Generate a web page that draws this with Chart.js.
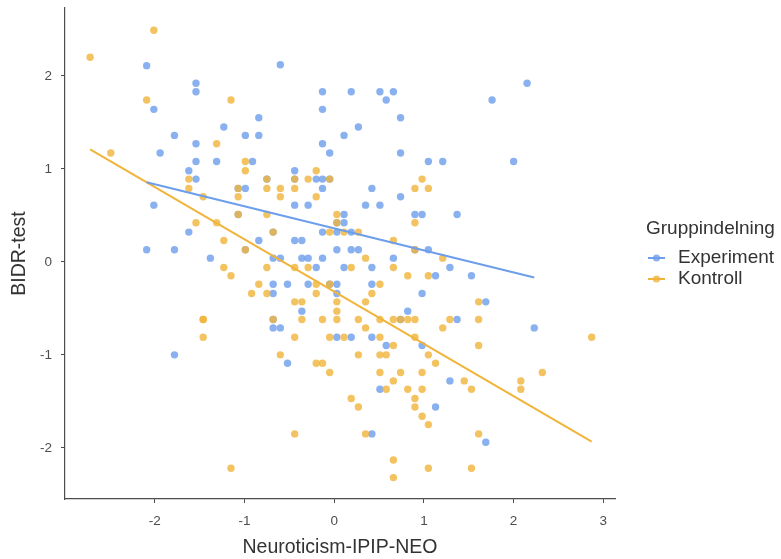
<!DOCTYPE html>
<html>
<head>
<meta charset="utf-8">
<script src="https://cdn.jsdelivr.net/npm/chart.js@4"></script>
<style>
  html, body { margin: 0; padding: 0; background: #fff; }
  #wrap { width: 781px; height: 559px; }
</style>
</head>
<body>
<div id="wrap"><canvas id="scatter" width="781" height="559"></canvas></div>
<script>
// ── Data ─────────────────────────────────────────────────────────────────
const groups = ['Experiment', 'Kontroll'];

const expX = [-2.09,-1.54,-1.54,-2.01,-1.23,-1.78,-0.99,-1.54,-1.94,-1.54,-1.31,-1.62,-1.54,-1.07,-0.99,-2.01,-1.07,-1.62,-2.09,-1.78,-0.99,-1.38,
  -1.78,
  -0.60,-0.13,0.19,0.51,0.66,0.58,-0.13,-0.84,0.74,0.27,-0.84,0.11,-0.13,-0.05,0.74,-0.91,1.05,-0.44,-0.75,-0.44,-0.20,-0.13,-0.05,-0.13,0.42,0.74,
  -0.44,-0.29,0.35,0.51,0.11,0.90,0.98,0.03,0.11,-0.68,-0.13,0.03,0.19,-0.84,-0.44,-0.36,0.03,0.19,0.27,0.90,1.05,-0.68,-0.60,-0.36,-0.29,-0.13,0.66,
  -0.20,0.11,0.42,1.13,-0.68,-0.52,-0.29,-0.05,0.03,0.42,-0.68,0.03,0.98,-0.36,0.82,-0.68,0.74,-0.68,-0.60,0.03,0.19,0.42,0.58,0.98,-0.52,0.51,1.13,0.42,
  2.15,1.76,1.21,2.00,1.37,1.29,1.53,1.69,1.37,2.23,1.29,1.69];
const expY = [2.11,1.92,1.83,1.64,1.45,1.36,1.36,1.27,1.17,1.08,1.08,0.98,0.89,0.79,0.79,0.61,0.51,0.32,0.13,0.13,0.13,0.04,
  -1.00,
  2.12,1.83,1.83,1.83,1.83,1.74,1.64,1.55,1.55,1.45,1.36,1.36,1.27,1.17,1.17,1.08,1.08,0.98,0.89,0.89,0.89,0.89,0.89,0.79,0.79,0.70,
  0.61,0.61,0.61,0.61,0.51,0.51,0.51,0.42,0.42,0.32,0.32,0.32,0.32,0.23,0.23,0.23,0.13,0.13,0.13,0.13,0.13,0.04,0.04,0.04,0.04,0.04,0.04,
  -0.06,-0.06,-0.06,-0.15,-0.24,-0.24,-0.24,-0.24,-0.24,-0.24,-0.34,-0.34,-0.34,-0.53,-0.53,-0.62,-0.62,-0.71,-0.71,-0.81,-0.81,-0.81,-0.90,-0.90,-1.09,-1.37,-1.56,-1.85,
  1.92,1.74,1.08,1.08,0.51,-0.06,-0.15,-0.43,-0.62,-0.71,-1.28,-1.94];

const konX = [-2.72,-2.01,-2.09,-1.15,-1.31,-2.49,-0.99,-0.99,-1.62,-1.62,-1.07,-1.46,-1.07,-1.07,-1.54,-1.31,-1.23,-0.99,
  -1.23,-1.15,-0.92,-1.46,-1.46,-1.46,-1.15,
  -0.20,-0.75,-0.44,-0.29,-0.05,-0.75,-0.60,-0.44,0.90,1.05,0.98,-0.60,-0.20,-0.75,0.03,0.03,0.90,-0.68,-0.05,0.11,0.27,0.66,0.90,0.35,
  -0.75,-0.44,-0.29,0.19,0.66,0.82,1.05,-0.84,-0.20,-0.05,0.51,-0.75,-0.20,0.42,-0.44,-0.36,0.03,0.35,0.03,
  -0.68,-0.36,-0.13,0.03,0.27,0.51,0.66,0.74,0.82,0.90,0.35,-0.44,-0.05,0.11,0.51,0.90,0.66,
  -0.60,0.27,0.51,0.58,1.05,1.13,-0.20,-0.13,-0.05,0.51,0.74,0.98,0.66,0.58,0.82,0.98,0.19,0.90,0.27,0.90,0.98,1.05,-0.44,0.35,0.66,1.05,0.66,
  1.21,1.61,1.29,1.61,1.21,2.87,1.61,2.32,1.45,2.08,1.53,2.08,1.61,1.53];
const konY = [2.20,2.49,1.74,1.74,1.27,1.17,1.08,0.98,0.89,0.79,0.79,0.70,0.70,0.51,0.42,0.42,0.23,0.13,
  -0.06,-0.15,-0.34,-0.62,-0.62,-0.81,-2.22,
  0.98,0.89,0.89,0.89,0.89,0.79,0.79,0.79,0.79,0.79,0.89,0.70,0.70,0.51,0.51,0.42,0.42,0.32,0.32,0.32,0.32,0.23,0.13,0.04,
  -0.06,-0.06,-0.06,-0.06,-0.06,-0.15,-0.15,-0.24,-0.24,-0.24,-0.24,-0.34,-0.34,-0.34,-0.43,-0.43,-0.43,-0.43,-0.53,
  -0.62,-0.62,-0.62,-0.62,-0.62,-0.62,-0.62,-0.62,-0.62,-0.62,-0.71,-0.81,-0.81,-0.81,-0.81,-0.81,-0.90,
  -1.00,-1.00,-1.00,-1.00,-1.00,-1.09,-1.09,-1.09,-1.19,-1.19,-1.19,-1.19,-1.28,-1.37,-1.37,-1.37,-1.47,-1.47,-1.56,-1.56,-1.66,-1.75,-1.85,-1.85,-2.13,-2.22,-2.32,
  0.04,-0.43,-0.62,-0.62,-0.71,-0.81,-0.90,-1.19,-1.28,-1.28,-1.37,-1.37,-1.85,-2.22];

// fitted lines (intercept, slope)
const expFit = [0.36, -0.237];
const konFit = [-0.32, -0.562];

const xTicks = [-2, -1, 0, 1, 2, 3];
const yTicks = [-2, -1, 0, 1, 2];

// ── Helpers ──────────────────────────────────────────────────────────────
const BLUE = '#6d9eeb';
const ORANGE = '#f1b43a';
const FONT = '"Liberation Sans", Arial, sans-serif';

function toPoints(xs, ys) {
    return xs.map((x, i) => ({ x: x, y: ys[i] }));
}

function fitLine(xs, fit) {
    const lo = Math.min(...xs), hi = Math.max(...xs);
    return [lo, hi].map(x => ({ x: x, y: fit[0] + fit[1] * x }));
}

function alpha(hex, a) {
    const n = parseInt(hex.slice(1), 16);
    return `rgba(${n >> 16},${(n >> 8) & 255},${n & 255},${a})`;
}

// legend drawn on the right, ggplot style (line + dot)
const sideLegend = {
    id: 'sideLegend',
    afterDraw(chart) {
        const ctx = chart.ctx;
        ctx.save();
        ctx.textBaseline = 'middle';
        ctx.fillStyle = '#333';
        ctx.font = `19px ${FONT}`;
        ctx.fillText('Gruppindelning', 646, 229);
        [[groups[0], BLUE, 258], [groups[1], ORANGE, 279]].forEach(([label, col, y]) => {
            ctx.strokeStyle = col;
            ctx.lineWidth = 2;
            ctx.beginPath();
            ctx.moveTo(648, y);
            ctx.lineTo(665, y);
            ctx.stroke();
            ctx.fillStyle = alpha(col, 0.8);
            ctx.beginPath();
            ctx.arc(656.5, y, 3.6, 0, Math.PI * 2);
            ctx.fill();
            ctx.fillStyle = '#333';
            ctx.fillText(label, 678, y);
        });
        ctx.restore();
    }
};

// ── Chart ────────────────────────────────────────────────────────────────
const pointStyle = col => ({
    type: 'scatter',
    pointRadius: 3.7,
    pointHoverRadius: 3.7,
    pointBorderWidth: 0,
    backgroundColor: alpha(col, 0.8),
    borderColor: 'transparent',
    order: 2
});
const lineStyle = col => ({
    type: 'line',
    borderColor: col,
    borderWidth: 2,
    pointRadius: 0,
    fill: false,
    order: 0
});

new Chart(document.getElementById('scatter'), {
    data: {
        datasets: [
            Object.assign({ label: groups[1], data: toPoints(konX, konY) }, pointStyle(ORANGE)),
            Object.assign({ label: groups[0], data: toPoints(expX, expY) }, pointStyle(BLUE)),
            Object.assign({ label: groups[0] + ' fit', data: fitLine(expX, expFit) }, lineStyle(BLUE)),
            Object.assign({ label: groups[1] + ' fit', data: fitLine(konX, konFit) }, lineStyle(ORANGE))
        ]
    },
    options: {
        responsive: false,
        animation: false,
        events: [],
        layout: { padding: { top: 8, right: 166, left: 0, bottom: 0 } },
        plugins: { legend: { display: false }, tooltip: { enabled: false } },
        scales: {
            x: {
                type: 'linear',
                min: -3.0,
                max: 3.13,
                afterBuildTicks: s => { s.ticks = xTicks.map(v => ({ value: v })); },
                afterFit: s => { s.height = 60; s.paddingLeft = 0; s.paddingRight = 0; },
                grid: { drawOnChartArea: false, drawTicks: true, tickLength: 4, color: '#4d4d4d' },
                border: { display: true, color: '#4d4d4d', width: 1.2 },
                ticks: { color: '#4d4d4d', padding: 10, font: { family: FONT, size: 13.5 } },
                title: {
                    display: true, text: 'Neuroticism-IPIP-NEO', color: '#333',
                    font: { family: FONT, size: 19.5 }, padding: { top: 0, bottom: 0 }
                }
            },
            y: {
                type: 'linear',
                min: -2.55,
                max: 2.73,
                afterBuildTicks: s => { s.ticks = yTicks.map(v => ({ value: v })); },
                afterFit: s => { s.width = 65; s.paddingTop = 0; s.paddingBottom = 0; },
                grid: { drawOnChartArea: false, drawTicks: true, tickLength: 4, color: '#4d4d4d' },
                border: { display: true, color: '#4d4d4d', width: 1.2 },
                ticks: { color: '#4d4d4d', padding: 9, font: { family: FONT, size: 13.5 } },
                title: {
                    display: true, text: 'BIDR-test', color: '#333',
                    font: { family: FONT, size: 19.5 }, padding: { top: 8, bottom: 0 }
                }
            }
        }
    },
    plugins: [sideLegend]
});
</script>
</body>
</html>
